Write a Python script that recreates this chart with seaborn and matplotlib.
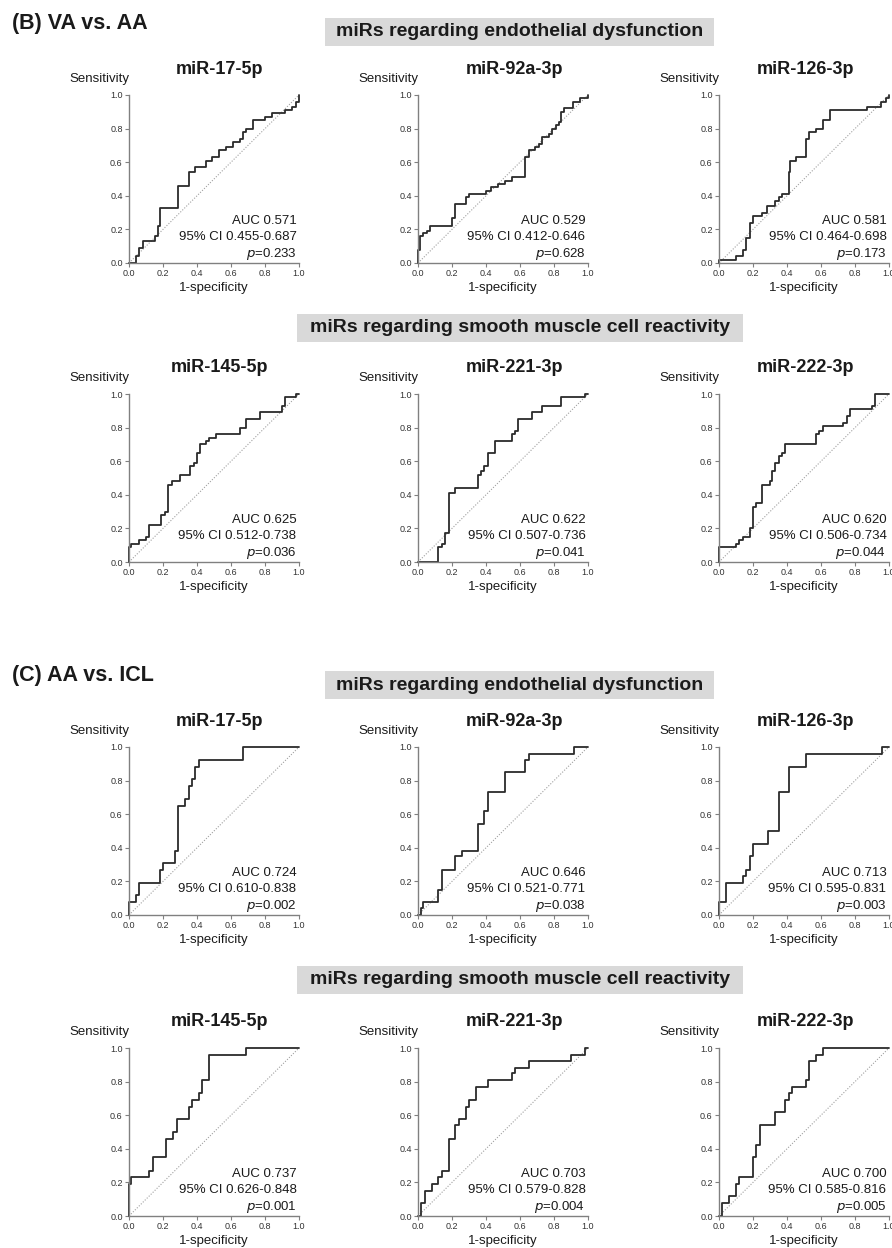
"""
ROC curves of circulating miRs: (B) VA vs. AA and (C) AA vs. ICL.
"""

import matplotlib.pyplot as plt
from matplotlib.patches import Rectangle
import seaborn as sns

# ---- data -------------------------------------------------------------
ROW_MIRS = [
    ["miR-17-5p", "miR-92a-3p", "miR-126-3p"],
    ["miR-145-5p", "miR-221-3p", "miR-222-3p"],
    ["miR-17-5p", "miR-92a-3p", "miR-126-3p"],
    ["miR-145-5p", "miR-221-3p", "miR-222-3p"],
]

# (B) VA vs. AA
B_17_FPR = [0, 0.04, 0.06, 0.08, 0.15, 0.17, 0.18, 0.29, 0.35, 0.39, 0.45, 0.49, 0.53,
            0.57, 0.61, 0.65, 0.67, 0.69, 0.73, 0.80, 0.84, 0.92, 0.96, 0.98, 1.0]
B_17_TPR = [0, 0.04, 0.09, 0.13, 0.16, 0.22, 0.33, 0.46, 0.54, 0.57, 0.61, 0.63, 0.67,
            0.69, 0.72, 0.74, 0.78, 0.80, 0.85, 0.87, 0.89, 0.91, 0.93, 0.96, 1.0]
B_92_FPR = [0, 0, 0.01, 0.03, 0.05, 0.07, 0.20, 0.22, 0.28, 0.30, 0.40, 0.43, 0.47, 0.51,
            0.55, 0.63, 0.65, 0.69, 0.71, 0.73, 0.77, 0.79, 0.81, 0.83, 0.84, 0.86, 0.91,
            0.95, 1.0]
B_92_TPR = [0, 0.08, 0.16, 0.18, 0.19, 0.22, 0.27, 0.35, 0.39, 0.41, 0.43, 0.45, 0.47, 0.49,
            0.51, 0.63, 0.67, 0.69, 0.71, 0.75, 0.77, 0.80, 0.82, 0.84, 0.90, 0.92, 0.96,
            0.98, 1.0]
B_126_FPR = [0, 0, 0.10, 0.14, 0.16, 0.18, 0.20, 0.25, 0.28, 0.33, 0.35, 0.37, 0.41, 0.42,
             0.45, 0.51, 0.53, 0.57, 0.61, 0.65, 0.87, 0.95, 0.98, 1.0]
B_126_TPR = [0, 0.02, 0.04, 0.08, 0.15, 0.24, 0.28, 0.30, 0.34, 0.37, 0.39, 0.41, 0.54, 0.61,
             0.63, 0.74, 0.78, 0.80, 0.85, 0.91, 0.93, 0.96, 0.98, 1.0]
B_145_FPR = [0, 0, 0.01, 0.06, 0.10, 0.12, 0.19, 0.21, 0.23, 0.25, 0.30, 0.36, 0.38, 0.40,
             0.42, 0.45, 0.47, 0.51, 0.65, 0.69, 0.77, 0.90, 0.92, 0.98, 1.0]
B_145_TPR = [0, 0.09, 0.11, 0.13, 0.15, 0.22, 0.28, 0.30, 0.46, 0.48, 0.52, 0.57, 0.59, 0.65,
             0.70, 0.72, 0.74, 0.76, 0.80, 0.85, 0.89, 0.93, 0.98, 1.0, 1.0]
B_221_FPR = [0, 0.12, 0.14, 0.16, 0.18, 0.22, 0.35, 0.37, 0.39, 0.41, 0.45, 0.55, 0.57, 0.59,
             0.67, 0.73, 0.84, 0.98, 1.0]
B_221_TPR = [0, 0.09, 0.11, 0.17, 0.41, 0.44, 0.52, 0.54, 0.57, 0.65, 0.72, 0.76, 0.78, 0.85,
             0.89, 0.93, 0.98, 1.0, 1.0]
B_222_FPR = [0, 0, 0.10, 0.12, 0.14, 0.18, 0.20, 0.22, 0.25, 0.30, 0.31, 0.33, 0.35, 0.37,
             0.39, 0.57, 0.59, 0.61, 0.73, 0.75, 0.77, 0.90, 0.92, 1.0]
B_222_TPR = [0, 0.09, 0.11, 0.13, 0.15, 0.20, 0.33, 0.35, 0.46, 0.48, 0.54, 0.59, 0.63, 0.65,
             0.70, 0.76, 0.78, 0.81, 0.83, 0.87, 0.91, 0.93, 1.0, 1.0]

# (C) AA vs. ICL
C_17_FPR = [0, 0, 0.04, 0.06, 0.18, 0.20, 0.27, 0.29, 0.33, 0.35, 0.37, 0.39, 0.41, 0.67, 1.0]
C_17_TPR = [0, 0.08, 0.12, 0.19, 0.27, 0.31, 0.38, 0.65, 0.69, 0.77, 0.81, 0.88, 0.92, 1.0, 1.0]
C_92_FPR = [0, 0.02, 0.03, 0.12, 0.14, 0.22, 0.26, 0.35, 0.39, 0.41, 0.51, 0.63, 0.65, 0.92, 1.0]
C_92_TPR = [0, 0.04, 0.08, 0.15, 0.27, 0.35, 0.38, 0.54, 0.62, 0.73, 0.85, 0.92, 0.96, 1.0, 1.0]
C_126_FPR = [0, 0, 0.04, 0.14, 0.16, 0.18, 0.20, 0.29, 0.35, 0.41, 0.51, 0.96, 1.0]
C_126_TPR = [0, 0.08, 0.19, 0.23, 0.27, 0.35, 0.42, 0.50, 0.73, 0.88, 0.96, 1.0, 1.0]
C_145_FPR = [0, 0, 0.01, 0.12, 0.14, 0.22, 0.26, 0.28, 0.35, 0.37, 0.41, 0.43, 0.47, 0.69, 1.0]
C_145_TPR = [0, 0.19, 0.23, 0.27, 0.35, 0.46, 0.50, 0.58, 0.65, 0.69, 0.73, 0.81, 0.96, 1.0, 1.0]
C_221_FPR = [0, 0.02, 0.04, 0.08, 0.12, 0.14, 0.18, 0.22, 0.24, 0.28, 0.30, 0.34, 0.41, 0.55,
             0.57, 0.65, 0.90, 0.98, 1.0]
C_221_TPR = [0, 0.08, 0.15, 0.19, 0.23, 0.27, 0.46, 0.54, 0.58, 0.65, 0.69, 0.77, 0.81, 0.85,
             0.88, 0.92, 0.96, 1.0, 1.0]
C_222_FPR = [0, 0.02, 0.06, 0.10, 0.12, 0.20, 0.22, 0.24, 0.33, 0.39, 0.41, 0.43, 0.51, 0.53,
             0.57, 0.61, 1.0]
C_222_TPR = [0, 0.08, 0.12, 0.19, 0.23, 0.35, 0.42, 0.54, 0.62, 0.69, 0.73, 0.77, 0.81, 0.92,
             0.96, 1.0, 1.0]

CURVES = [
    [(B_17_FPR, B_17_TPR), (B_92_FPR, B_92_TPR), (B_126_FPR, B_126_TPR)],
    [(B_145_FPR, B_145_TPR), (B_221_FPR, B_221_TPR), (B_222_FPR, B_222_TPR)],
    [(C_17_FPR, C_17_TPR), (C_92_FPR, C_92_TPR), (C_126_FPR, C_126_TPR)],
    [(C_145_FPR, C_145_TPR), (C_221_FPR, C_221_TPR), (C_222_FPR, C_222_TPR)],
]

AUC = [["0.571", "0.529", "0.581"], ["0.625", "0.622", "0.620"],
       ["0.724", "0.646", "0.713"], ["0.737", "0.703", "0.700"]]
CI = [["0.455-0.687", "0.412-0.646", "0.464-0.698"],
      ["0.512-0.738", "0.507-0.736", "0.506-0.734"],
      ["0.610-0.838", "0.521-0.771", "0.595-0.831"],
      ["0.626-0.848", "0.579-0.828", "0.585-0.816"]]
PVAL = [["0.233", "0.628", "0.173"], ["0.036", "0.041", "0.044"],
        ["0.002", "0.038", "0.003"], ["0.001", "0.004", "0.005"]]

SECTIONS = ["(B) VA vs. AA", "(C) AA vs. ICL"]
GROUPS = ["miRs regarding endothelial dysfunction",
          "miRs regarding smooth muscle cell reactivity"]

# ---- layout (pixels) ---------------------------------------------------
W, H = 892, 1248
COL_LEFT = [129, 418, 719]
AX_W, AX_H = 170, 168
ROW_TOP = [95, 394, 747, 1048]
TITLE_X = [0.53, 0.57, 0.51]
SECTION_Y = [23, 676]
BOX_Y = [32, 328, 685, 980]
BOX_X = [(325, 714), (297, 743), (325, 714), (297, 743)]

sns.set_style("ticks")
plt.rcParams["font.family"] = ["Liberation Sans", "DejaVu Sans"]
plt.rcParams["text.color"] = "#1a1a1a"
plt.rcParams["axes.labelcolor"] = "#1a1a1a"

fig = plt.figure(figsize=(W / 100, H / 100), dpi=100)

for s, label in enumerate(SECTIONS):
    fig.text(12 / W, 1 - SECTION_Y[s] / H, label, fontsize=15.5, weight="bold",
             ha="left", va="center")

for r in range(4):
    x0, x1 = BOX_X[r]
    fig.patches.append(Rectangle((x0 / W, 1 - (BOX_Y[r] + 14) / H), (x1 - x0) / W, 28 / H,
                                 transform=fig.transFigure, fc="#d9d9d9", ec="none"))
    fig.text((x0 + x1) / 2 / W, 1 - BOX_Y[r] / H, GROUPS[r % 2], fontsize=14,
             weight="bold", ha="center", va="center")

    for c in range(3):
        ax = fig.add_axes([COL_LEFT[c] / W, 1 - (ROW_TOP[r] + AX_H) / H, AX_W / W, AX_H / H])
        fpr, tpr = CURVES[r][c]
        sns.lineplot(x=[0, 1], y=[0, 1], ax=ax, color="#a0a0a0", lw=0.8, ls=(0, (1, 1.5)))
        sns.lineplot(x=fpr, y=tpr, ax=ax, sort=False, estimator=None, drawstyle="steps-post",
                     color="#2b2b2b", lw=1.3, clip_on=False)
        ax.set_xlim(0, 1)
        ax.set_ylim(0, 1)
        ax.set_xticks([0, 0.2, 0.4, 0.6, 0.8, 1.0])
        ax.set_yticks([0, 0.2, 0.4, 0.6, 0.8, 1.0])
        ax.xaxis.set_major_formatter("{x:.1f}")
        ax.yaxis.set_major_formatter("{x:.1f}")
        ax.tick_params(labelsize=6.5, length=3, width=0.8, color="#808080",
                       labelcolor="#333333", pad=1.5)
        sns.despine(ax=ax)
        for side in ("left", "bottom"):
            ax.spines[side].set_color("#808080")
            ax.spines[side].set_linewidth(1.0)
        ax.set_xlabel("1-specificity", fontsize=9.5, labelpad=3)
        ax.set_ylabel("")
        ax.text(0.005, 1.095, "Sensitivity", transform=ax.transAxes, fontsize=9.5,
                ha="right", va="center")
        ax.text(TITLE_X[c], 1 + 26 / AX_H, ROW_MIRS[r][c], transform=ax.transAxes,
                fontsize=13, weight="bold", ha="center", va="center")
        ax.text(0.985, 0.25, f"AUC {AUC[r][c]}", transform=ax.transAxes, fontsize=9.5,
                ha="right", va="center")
        ax.text(0.985, 0.152, f"95% CI {CI[r][c]}", transform=ax.transAxes, fontsize=9.5,
                ha="right", va="center")
        ax.text(0.985, 0.056, f"$p$={PVAL[r][c]}", transform=ax.transAxes, fontsize=9.5,
                ha="right", va="center")

fig.savefig("out.png", dpi=100)
